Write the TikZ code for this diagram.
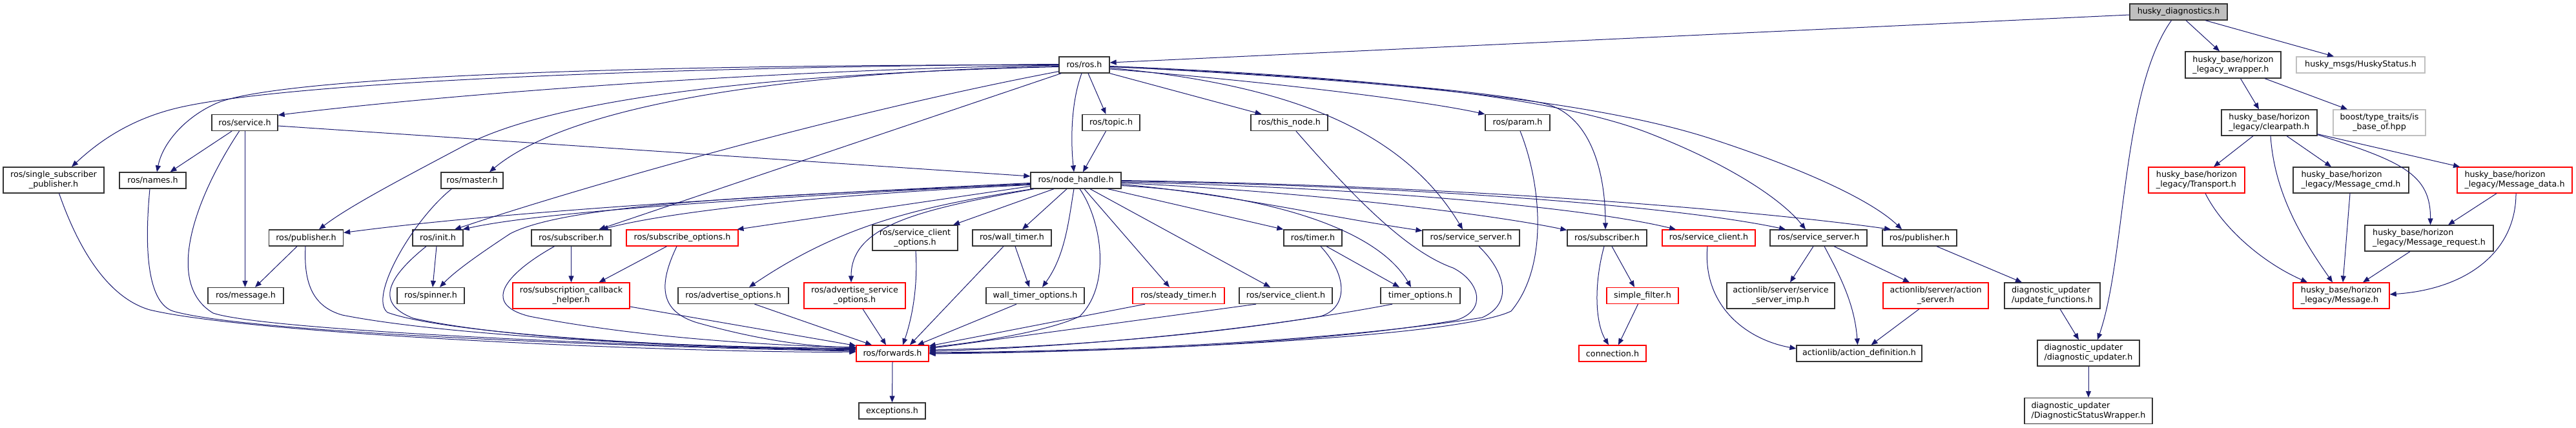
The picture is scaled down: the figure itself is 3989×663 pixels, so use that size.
\documentclass[tikz,border=0pt]{standalone}
\usepackage{fontspec}
\setmainfont{DejaVu Sans}
\usetikzlibrary{arrows.meta,calc}
\definecolor{edgecol}{HTML}{191970}
\definecolor{graybd}{HTML}{BFBFBF}
\begin{document}
\begin{tikzpicture}[x=1pt,y=-1pt,
 nbox/.style={draw=black!80, line width=1.3pt, fill=white, rectangle, minimum height=25pt, inner xsep=2pt, inner ysep=1pt, font=\fontsize{12.7}{15.3}\selectfont, align=center},
 two/.style={minimum height=40pt},
 lft/.style={align=left},
 trunc/.style={draw=red},
 ext/.style={draw=graybd},
 root/.style={fill=graybd},
 dep/.style={draw=edgecol, line width=1pt, -{Triangle[length=10pt,width=8pt]}},
]
\fill[white] (0,0) rectangle (3989,663);
\useasboundingbox (0,0) rectangle (3989,663);
% rank 0-2
\node[nbox,root,minimum width=151pt] (hd) at (3373.5,18.5) {husky\_diagnostics.h};
\node[nbox,minimum width=78pt] (ros) at (1679,100.5) {ros/ros.h};
\node[nbox,two,lft,minimum width=148pt,minimum height=41pt] (wrap) at (3458,100.5) {husky\_base/horizon\\\_legacy\_wrapper.h};
\node[nbox,ext,minimum width=199pt] (hstat) at (3655.5,100.5) {husky\_msgs/HuskyStatus.h};
\node[nbox,minimum width=102pt] (service) at (379,190) {ros/service.h};
\node[nbox,minimum width=89pt] (topic) at (1720.5,190) {ros/topic.h};
\node[nbox,minimum width=119pt] (thisnode) at (1996.5,190) {ros/this\_node.h};
\node[nbox,minimum width=100pt] (param) at (2350,190) {ros/param.h};
\node[nbox,two,lft,minimum width=148pt] (clear) at (3514,190) {husky\_base/horizon\\\_legacy/clearpath.h};
\node[nbox,two,ext,minimum width=143pt] (boost) at (3684.5,190) {boost/type\_traits/is\\\_base\_of.hpp};
% rank 3
\node[nbox,two,minimum width=156pt] (ssp) at (83,279) {ros/single\_subscriber\\\_publisher.h};
\node[nbox,minimum width=103pt] (names) at (236.5,279.5) {ros/names.h};
\node[nbox,minimum width=96pt] (master) at (731,279.5) {ros/master.h};
\node[nbox,minimum width=140pt] (nh) at (1666,279.5) {ros/node\_handle.h};
\node[nbox,two,lft,trunc,minimum width=149pt] (transport) at (3401.5,279) {husky\_base/horizon\\\_legacy/Transport.h};
\node[nbox,two,lft,minimum width=179pt] (mcmd) at (3640.5,279) {husky\_base/horizon\\\_legacy/Message\_cmd.h};
\node[nbox,two,lft,trunc,minimum width=178pt] (mdata) at (3894,279) {husky\_base/horizon\\\_legacy/Message\_data.h};
% rank 4
\node[nbox,minimum width=115pt] (pubL) at (474,368.5) {ros/publisher.h};
\node[nbox,minimum width=78pt] (init) at (678,368.5) {ros/init.h};
\node[nbox,minimum width=123pt] (subL) at (884.5,368.5) {ros/subscriber.h};
\node[nbox,trunc,minimum width=173pt] (subopt) at (1056.5,368.5) {ros/subscribe\_options.h};
\node[nbox,two,minimum width=132pt,minimum height=39pt] (scopt) at (1417,368.5) {ros/service\_client\\\_options.h};
\node[nbox,minimum width=122pt] (wtimer) at (1567,368.5) {ros/wall\_timer.h};
\node[nbox,minimum width=90pt] (timer) at (2033,368.5) {ros/timer.h};
\node[nbox,minimum width=150pt] (ssL) at (2278,368.5) {ros/service\_server.h};
\node[nbox,minimum width=123pt] (subR) at (2488.5,368.5) {ros/subscriber.h};
\node[nbox,trunc,minimum width=144pt] (scR) at (2646,368.5) {ros/service\_client.h};
\node[nbox,minimum width=150pt] (ssR) at (2816,368.5) {ros/service\_server.h};
\node[nbox,minimum width=115pt] (pubR) at (2972.5,368.5) {ros/publisher.h};
\node[nbox,two,lft,minimum width=199pt] (mreq) at (3761.5,369) {husky\_base/horizon\\\_legacy/Message\_request.h};
% rank 5
\node[nbox,minimum width=117pt] (message) at (380.5,458) {ros/message.h};
\node[nbox,minimum width=104pt] (spinner) at (667,458) {ros/spinner.h};
\node[nbox,two,trunc,minimum width=181pt] (sch) at (884.5,458) {ros/subscription\_callback\\\_helper.h};
\node[nbox,minimum width=171pt] (advopt) at (1135.5,458) {ros/advertise\_options.h};
\node[nbox,two,trunc,minimum width=157pt] (asopt) at (1323.5,458) {ros/advertise\_service\\\_options.h};
\node[nbox,minimum width=152pt] (wtopt) at (1603,458) {wall\_timer\_options.h};
\node[nbox,trunc,minimum width=142pt] (stimer) at (1825,458) {ros/steady\_timer.h};
\node[nbox,minimum width=144pt] (scB) at (1991,458) {ros/service\_client.h};
\node[nbox,minimum width=123pt] (topt) at (2199.5,458) {timer\_options.h};
\node[nbox,trunc,minimum width=111pt] (sfilter) at (2543.5,458) {simple\_filter.h};
\node[nbox,two,minimum width=167pt] (ssimp) at (2757.5,458) {actionlib/server/service\\\_server\_imp.h};
\node[nbox,two,trunc,minimum width=163pt] (aserver) at (2997.5,458) {actionlib/server/action\\\_server.h};
\node[nbox,two,lft,minimum width=148pt] (updfn) at (3178,458) {diagnostic\_updater\\/update\_functions.h};
\node[nbox,two,lft,trunc,minimum width=149pt] (msg) at (3625.5,458) {husky\_base/horizon\\\_legacy/Message.h};
% rank 6-7
\node[nbox,trunc,minimum width=112pt] (fwd) at (1382,547.5) {ros/forwards.h};
\node[nbox,trunc,minimum width=104pt] (conn) at (2497,547.5) {connection.h};
\node[nbox,minimum width=194pt] (adef) at (2879,547.5) {actionlib/action\_definition.h};
\node[nbox,two,lft,minimum width=158pt] (dupd) at (3234,547) {diagnostic\_updater\\/diagnostic\_updater.h};
\node[nbox,minimum width=103pt] (exc) at (1381.5,636.5) {exceptions.h};
\node[nbox,two,lft,minimum width=198pt] (dsw) at (3234,636.5) {diagnostic\_updater\\/DiagnosticStatusWrapper.h};

% husky_diagnostics
\draw[dep] ($(hd.west)+(0,4.5)$) -- ($(ros.east)+(0,-3.5)$);
\draw[dep] ($(hd.south)+(11.5,0)$) -- ($(wrap.north)+(-21,0)$);
\draw[dep] ($(hd.south)+(41.5,0)$) -- ($(hstat.north)+(-41.5,0)$);
\draw[dep] ($(hd.south)+(-11,0)$) .. controls (3285,140) and (3292,400) .. ($(dupd.north)+(14,0)$);
% wrapper / clearpath
\draw[dep] ($(wrap.south)+(11.5,0)$) -- ($(clear.north)+(-16,0)$);
\draw[dep] ($(wrap.south)+(49,0)$) -- ($(boost.north)+(-49.5,0)$);
\draw[dep] ($(clear.south)+(-25,0)$) -- ($(transport.north)+(26.5,0)$);
\draw[dep] ($(clear.south)+(2,0)$) .. controls (3522,300) and (3565,370) .. ($(msg.north)+(-13.5,0)$);
\draw[dep] ($(clear.south)+(27,0)$) -- ($(mcmd.north)+(-30.5,0)$);
\draw[dep] ($(clear.south east)+(0,-2)$) .. controls (3720,250) and (3764,270) .. ($(mreq.north)+(2,0)$);
\draw[dep] ($(clear.south east)+(0,-3)$) -- ($(mdata.north)+(-85,0)$);
\draw[dep] ($(transport.south)+(13.5,0)$) .. controls (3440,350) and (3500,405) .. ($(msg.north)+(-52.5,0)$);
\draw[dep] ($(mcmd.south)+(-1.5,0)$) -- ($(msg.north)+(2.5,0)$);
\draw[dep] ($(mdata.south)+(-28,0)$) -- ($(mreq.north)+(29.5,0)$);
\draw[dep] ($(mdata.south)+(2,0)$) .. controls (3896,390) and (3820,448) .. ($(msg.east)+(0,-2)$);
\draw[dep] ($(mreq.south)+(-29.5,0)$) -- ($(msg.north)+(33.5,0)$);
% diagnostics
\draw[dep] ($(pubR.south)+(26.5,0)$) -- ($(updfn.north)+(-47,0)$);
\draw[dep] ($(updfn.south)+(12,0)$) -- ($(dupd.north)+(-15,0)$);
\draw[dep] (dupd.south) -- (dsw.north);
% actionlib
\draw[dep] ($(ssR.south)+(9,0)$) .. controls (2848,425) and (2872,470) .. ($(adef.north)+(-2.5,0)$);
\draw[dep] ($(ssR.south)+(24,0)$) -- ($(aserver.north)+(-40.5,0)$);
\draw[dep] ($(ssR.south)+(-8,0)$) -- ($(ssimp.north)+(14.5,0)$);
\draw[dep] ($(aserver.south)+(-25.5,0)$) -- ($(adef.north)+(18.5,0)$);
\draw[dep] ($(scR.south)+(-2,0)$) .. controls (2636,470) and (2700,525) .. ($(adef.west)+(0,-7.5)$);
\draw[dep] ($(subR.south)+(-4.5,0)$) .. controls (2468,440) and (2470,500) .. ($(conn.north)+(-6,0)$);
\draw[dep] ($(subR.south)+(7.5,0)$) -- ($(sfilter.north)+(-12.5,0)$);
\draw[dep] ($(sfilter.south)+(-7,0)$) -- ($(conn.north)+(9,0)$);
% ros.h
\draw[dep] ($(ros.west)+(0,0.5)$) .. controls (1200,108) and (700,145) .. ($(service.north east)+(0,1.5)$);
\draw[dep] (ros.west) .. controls (1000,100) and (450,118) .. (340,158) .. controls (290,178) and (252,220) .. ($(names.north)+(6.5,0)$);
\draw[dep] ($(ros.west)+(0,-1)$) .. controls (1000,104) and (450,128) .. (280,166) .. controls (200,184) and (150,222) .. ($(ssp.north)+(28,0)$);
\draw[dep] ($(ros.west)+(0,2)$) .. controls (1200,112) and (880,165) .. ($(master.north)+(27,0)$);
\draw[dep] ($(ros.west)+(0,3)$) .. controls (1150,115) and (850,158) .. (720,225) .. controls (620,278) and (540,320) .. ($(pubL.north)+(20,0)$);
\draw[dep] ($(ros.south west)+(0,-3)$) .. controls (1300,175) and (900,290) .. ($(init.north)+(26,0)$);
\draw[dep] ($(ros.south west)+(4,0)$) -- ($(subL.north)+(43,0)$);
\draw[dep] ($(ros.south)+(6,0)$) -- ($(topic.north)+(-8,0)$);
\draw[dep] ($(ros.south)+(-4,0)$) .. controls (1658,160) and (1658,220) .. ($(nh.north)+(-3,0)$);
\draw[dep] (ros.south east) -- ($(thisnode.north)+(-43,0)$);
\draw[dep] ($(ros.east)+(0,6.5)$) .. controls (1950,125) and (2200,155) .. (param.north west);
\draw[dep] ($(ros.east)+(0,4.5)$) .. controls (1950,128) and (2160,180) .. ($(ssL.north)+(-13,0)$);
\draw[dep] ($(ros.east)+(0,3)$) .. controls (2000,115) and (2300,140) .. (2390,160) .. controls (2460,176) and (2486,260) .. ($(subR.north)+(-2.5,0)$);
\draw[dep] ($(ros.east)+(0,2)$) .. controls (2100,118) and (2400,148) .. (2550,205) .. controls (2680,255) and (2760,310) .. ($(ssR.north)+(-20,0)$);
\draw[dep] ($(ros.east)+(0,2.5)$) .. controls (2100,123) and (2450,150) .. (2650,215) .. controls (2800,264) and (2900,312) .. ($(pubR.north)+(-27.5,0)$);
% service.h
\draw[dep] ($(service.south)+(-20,0)$) -- ($(names.north)+(27,0)$);
\draw[dep] ($(service.south)+(0.5,0)$) -- ($(message.north)+(-1,0)$);
\draw[dep] ($(service.south)+(-8.5,0)$) .. controls (300,310) and (255,440) .. (330,485) .. controls (420,515) and (1100,540) .. ($(fwd.west)+(0,-4.5)$);
\draw[dep] ($(service.east)+(0,5)$) -- ($(nh.west)+(0,-6.5)$);
% into forwards from the left
\draw[dep] ($(ssp.south)+(8.5,0)$) .. controls (130,410) and (180,465) .. (232,480) .. controls (400,520) and (1100,548) .. ($(fwd.west)+(0,-2.5)$);
\draw[dep] ($(names.south)+(-4.5,0)$) .. controls (222,400) and (232,470) .. (268,482) .. controls (400,520) and (1100,540) .. ($(fwd.west)+(0,-3.5)$);
\draw[dep] ($(master.south west)+(17,0)$) .. controls (640,340) and (570,460) .. (600,484) .. controls (700,520) and (1100,540) .. ($(fwd.west)+(0,-6)$);
\draw[dep] ($(pubL.south)+(-1,0)$) .. controls (470,440) and (485,475) .. (530,488) .. controls (700,522) and (1100,540) .. ($(fwd.west)+(0,-7)$);
\draw[dep] ($(init.south)+(-18,0)$) .. controls (600,430) and (580,470) .. (640,493) .. controls (800,528) and (1100,538) .. ($(fwd.west)+(0,-8)$);
\draw[dep] ($(subL.south)+(-26,0)$) .. controls (790,420) and (740,470) .. (820,490) .. controls (1000,525) and (1200,535) .. ($(fwd.west)+(0,-9)$);
\draw[dep] ($(subopt.south)+(-8.5,0)$) .. controls (1020,440) and (1020,482) .. (1080,500) .. controls (1180,528) and (1260,538) .. ($(fwd.west)+(0,-10)$);
\draw[dep] ($(sch.east)+(0,17)$) -- ($(fwd.west)+(0,-12)$);
\draw[dep] (subL.south) -- (sch.north);
\draw[dep] ($(subopt.south)+(-24,0)$) -- ($(sch.north)+(43,0)$);
\draw[dep] ($(pubL.south)+(-14,0)$) -- ($(message.north)+(14.5,0)$);
\draw[dep] ($(init.south)+(-2,0)$) -- ($(spinner.north)+(3,0)$);
% into forwards from above
\draw[dep] ($(advopt.south)+(33,0)$) -- ($(fwd.north)+(-32,0)$);
\draw[dep] ($(asopt.south)+(12.5,0)$) -- ($(fwd.north)+(-10,0)$);
\draw[dep] ($(scopt.south)+(1,0)$) .. controls (1422,450) and (1410,500) .. ($(fwd.north)+(16,0)$);
\draw[dep] ($(wtimer.south)+(-13,0)$) -- ($(fwd.north)+(27,0)$);
\draw[dep] ($(wtopt.south)+(-29,0)$) -- ($(fwd.north east)+(-18,0)$);
\draw[dep] ($(wtimer.south)+(5,0)$) -- ($(wtopt.north)+(-9,0)$);
% into forwards from the right
\draw[dep] ($(stimer.south)+(-52,0)$) -- ($(fwd.east)+(0,-11.5)$);
\draw[dep] ($(nh.south)+(6,0)$) .. controls (1705,340) and (1722,440) .. (1672,490) .. controls (1620,515) and (1500,532) .. ($(fwd.east)+(0,-9.5)$);
\draw[dep] ($(scB.south)+(-46,0)$) -- ($(fwd.east)+(0,-7.5)$);
\draw[dep] ($(timer.south)+(12,0)$) .. controls (2090,430) and (2085,478) .. (2045,490) .. controls (1800,530) and (1550,540) .. ($(fwd.east)+(0,-5.5)$);
\draw[dep] ($(topt.south)+(-43.5,0)$) .. controls (1900,520) and (1600,540) .. ($(fwd.east)+(0,-3.5)$);
\draw[dep] ($(ssL.south)+(12,0)$) .. controls (2330,420) and (2345,470) .. (2295,492) .. controls (2000,538) and (1600,545) .. ($(fwd.east)+(0,-1.5)$);
\draw[dep] ($(thisnode.south)+(10.5,0)$) .. controls (2100,310) and (2180,390) .. (2250,415) .. controls (2290,435) and (2305,480) .. (2255,496) .. controls (2000,540) and (1600,546) .. ($(fwd.east)+(0,-0.5)$);
\draw[dep] ($(param.south)+(4,0)$) .. controls (2385,280) and (2400,410) .. (2340,482) .. controls (2250,525) and (1700,546) .. ($(fwd.east)+(0,0.5)$);
\draw[dep] ($(timer.south)+(21,0)$) -- ($(topt.north)+(-32.5,0)$);
% node_handle.h
\draw[dep] ($(nh.west)+(0,4)$) .. controls (1250,300) and (800,325) .. ($(pubL.east)+(0,-8)$);
\draw[dep] ($(nh.west)+(0,5)$) .. controls (1250,303) and (850,325) .. ($(init.north east)+(-1,0)$);
\draw[dep] ($(nh.west)+(0,6)$) .. controls (1200,302) and (880,315) .. (790,362) .. controls (740,395) and (705,420) .. ($(spinner.north)+(14,0)$);
\draw[dep] ($(nh.west)+(0,7)$) .. controls (1300,300) and (1050,325) .. ($(subL.north)+(47,0)$);
\draw[dep] ($(nh.west)+(0,9)$) -- ($(subopt.north)+(85,0)$);
\draw[dep] ($(nh.south west)+(4,0)$) .. controls (1420,320) and (1300,350) .. ($(advopt.north)+(24.5,0)$);
\draw[dep] ($(nh.south west)+(6,0)$) .. controls (1420,325) and (1318,350) .. ($(asopt.north)+(-5.5,0)$);
\draw[dep] ($(nh.south)+(-34,0)$) -- ($(scopt.north)+(59,0)$);
\draw[dep] ($(nh.south)+(-14,0)$) -- ($(wtimer.north)+(16,0)$);
\draw[dep] ($(nh.south)+(-3,0)$) .. controls (1655,340) and (1650,395) .. ($(wtopt.north)+(11,0)$);
\draw[dep] ($(nh.south)+(13,0)$) -- ($(stimer.north)+(-14,0)$);
\draw[dep] ($(nh.south)+(22,0)$) -- ($(scB.north)+(-24,0)$);
\draw[dep] ($(nh.south east)+(-21,0)$) -- (timer.north west);
\draw[dep] ($(nh.east)+(0,8)$) .. controls (1950,300) and (2130,350) .. ($(topt.north)+(-14.5,0)$);
\draw[dep] ($(nh.east)+(0,6)$) .. controls (1900,300) and (2050,335) .. ($(ssL.west)+(0,-11)$);
\draw[dep] ($(nh.east)+(0,4)$) .. controls (2000,295) and (2300,330) .. ($(subR.west)+(0,-12)$);
\draw[dep] ($(nh.east)+(0,2.5)$) .. controls (2100,290) and (2450,320) .. ($(scR.north)+(-51,0)$);
\draw[dep] ($(nh.east)+(0,1)$) .. controls (2200,288) and (2600,320) .. ($(ssR.north)+(-51,0)$);
\draw[dep] (nh.east) .. controls (2300,288) and (2750,330) .. ($(pubR.north)+(-44.5,0)$);
\draw[dep] ($(topic.south)+(-8,0)$) -- ($(nh.north)+(11,0)$);
\draw[dep] (fwd.south) -- (exc.north);
\end{tikzpicture}
\end{document}
